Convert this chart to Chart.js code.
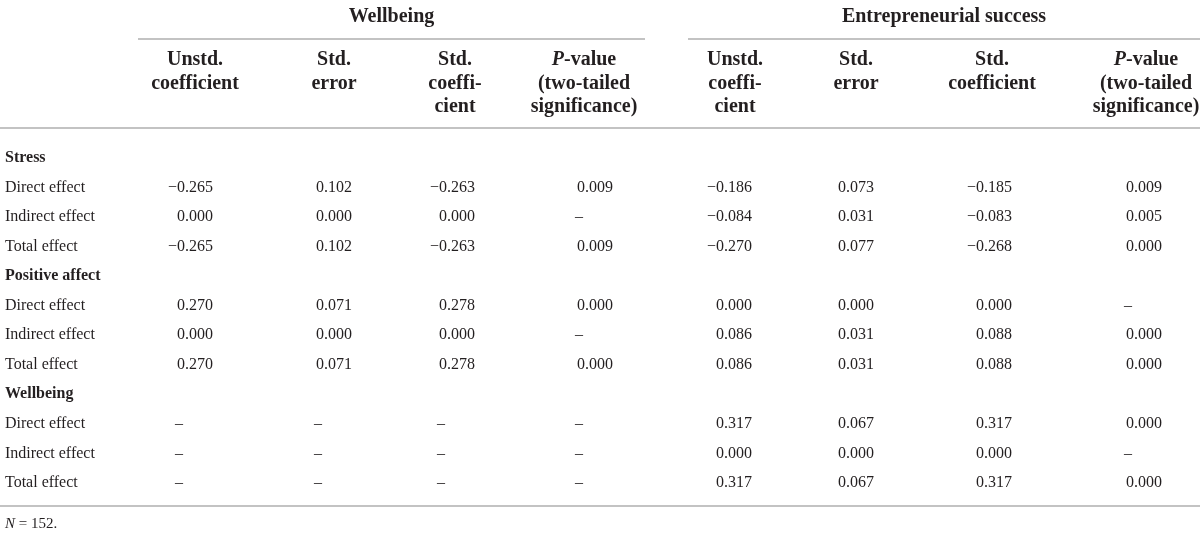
<!DOCTYPE html>
<html>
<head>
<meta charset="utf-8">
<script src="https://cdn.jsdelivr.net/npm/chart.js@4"></script>
<style>
  html, body { margin: 0; padding: 0; background: #fff; }
  #wrap { width: 1200px; height: 533px; position: relative; }
</style>
</head>
<body>
<div id="wrap"><canvas id="tbl"></canvas></div>
<script>
// table content
const groups = ['Stress', 'Positive affect', 'Wellbeing'];
const effects = ['Direct effect', 'Indirect effect', 'Total effect'];
const outcomes = ['Wellbeing', 'Entrepreneurial success'];
const colHeads = [
    ['Unstd.', 'coefficient'], ['Std.', 'error'], ['Std.', 'coeffi-', 'cient'], ['P-value', '(two-tailed', 'significance)'],
    ['Unstd.', 'coeffi-', 'cient'], ['Std.', 'error'], ['Std.', 'coefficient'], ['P-value', '(two-tailed', 'significance)']
];
// null = not estimated (drawn as a dash)
const wbUnstd = [-0.265, 0.000, -0.265, 0.270, 0.000, 0.270, null, null, null];
const wbSE    = [0.102, 0.000, 0.102, 0.071, 0.000, 0.071, null, null, null];
const wbStd   = [-0.263, 0.000, -0.263, 0.278, 0.000, 0.278, null, null, null];
const wbP     = [0.009, null, 0.009, 0.000, null, 0.000, null, null, null];
const esUnstd = [-0.186, -0.084, -0.270, 0.000, 0.086, 0.086, 0.317, 0.000, 0.317];
const esSE    = [0.073, 0.031, 0.077, 0.000, 0.031, 0.031, 0.067, 0.000, 0.067];
const esStd   = [-0.185, -0.083, -0.268, 0.000, 0.088, 0.088, 0.317, 0.000, 0.317];
const esP     = [0.009, 0.005, 0.000, null, 0.000, 0.000, 0.000, null, 0.000];
const footnote = 'N = 152.';

// layout (x in canvas units)
const colRight = [213, 352, 475, 613, 752, 874, 1012, 1162];
const headCenter = [195, 334, 455, 584, 735, 856, 992, 1146];
const spanX = [[138, 645], [688, 1200]];
const serif = '"Liberation Serif", "DejaVu Serif", serif';
const ink = '#231f20';
const rule = '#c3c3c3';

const rowLabels = [];
groups.forEach(g => { rowLabels.push(g); effects.forEach(e => rowLabels.push(e)); });
const rowOf = k => Math.floor(k / 3) * 4 + (k % 3) + 1;

const series = [wbUnstd, wbSE, wbStd, wbP, esUnstd, esSE, esStd, esP];
const datasets = series.map((vals, c) => ({
    label: colHeads[c].join(' '),
    data: vals.map((v, k) => ({ x: colRight[c], y: rowOf(k), v: v })),
    pointRadius: 0, showLine: false
}));

const fmt = v => (v < 0 ? '\u2212' : '') + Math.abs(v).toFixed(3);

const tablePlugin = {
    id: 'table',
    afterDatasetsDraw(chart) {
        const { ctx, scales: { x, y } } = chart;
        ctx.save();
        ctx.fillStyle = ink;
        ctx.textBaseline = 'middle';

        // rules
        ctx.strokeStyle = rule;
        ctx.lineWidth = 2;
        const hline = (x0, x1, yy) => { ctx.beginPath(); ctx.moveTo(x.getPixelForValue(x0), yy); ctx.lineTo(x.getPixelForValue(x1), yy); ctx.stroke(); };
        spanX.forEach(s => hline(s[0], s[1], 39));
        hline(0, 1200, 128);
        hline(0, 1200, 506);

        // outcome titles
        ctx.font = 'bold 20px ' + serif;
        ctx.textAlign = 'center';
        outcomes.forEach((t, i) => {
            const cx = (x.getPixelForValue(spanX[i][0]) + x.getPixelForValue(spanX[i][1])) / 2;
            ctx.fillText(t, cx, 17);
        });

        // column headers
        const hFont = 'bold 20px ' + serif;
        const pFont = 'italic bold 20px ' + serif;
        colHeads.forEach((lines, c) => {
            const cx = x.getPixelForValue(headCenter[c]);
            lines.forEach((l, j) => {
                const yy = 60 + j * 23.5;
                if (l.startsWith('P-')) {
                    ctx.font = pFont;
                    const pw = ctx.measureText('P').width;
                    ctx.font = hFont;
                    const rw = ctx.measureText(l.slice(1)).width;
                    const x0 = cx - (pw + rw) / 2;
                    ctx.textAlign = 'left';
                    ctx.font = pFont;
                    ctx.fillText('P', x0, yy);
                    ctx.font = hFont;
                    ctx.fillText(l.slice(1), x0 + pw, yy);
                } else {
                    ctx.font = hFont;
                    ctx.textAlign = 'center';
                    ctx.fillText(l, cx, yy);
                }
            });
        });

        // row labels
        ctx.textAlign = 'left';
        rowLabels.forEach((lab, i) => {
            ctx.font = (i % 4 === 0 ? 'bold 16px ' : '16px ') + serif;
            ctx.fillText(lab, 5, y.getPixelForValue(i));
        });

        // cells
        ctx.font = '16px ' + serif;
        const numW = ctx.measureText('0.000').width;
        chart.data.datasets.forEach((ds, di) => {
            chart.getDatasetMeta(di).data.forEach((el, i) => {
                const v = ds.data[i].v;
                if (v === null) {
                    ctx.textAlign = 'left';
                    ctx.fillText('\u2013', el.x - numW - 2, el.y);
                } else {
                    ctx.textAlign = 'right';
                    ctx.fillText(fmt(v), el.x, el.y);
                }
            });
        });

        // footnote
        ctx.textAlign = 'left';
        ctx.font = 'italic 15px ' + serif;
        ctx.fillText('N', 5, 524);
        const nw = ctx.measureText('N').width;
        ctx.font = '15px ' + serif;
        ctx.fillText(footnote.slice(1), 5 + nw, 524);
        ctx.restore();
    }
};

new Chart(document.getElementById('tbl'), {
    type: 'scatter',
    data: { datasets: datasets },
    options: {
        responsive: true, maintainAspectRatio: false, animation: false,
        layout: { padding: { top: 143.25, bottom: 35.25, left: 0, right: 0 } },
        scales: {
            x: { type: 'linear', min: 0, max: 1200, display: false },
            y: { type: 'linear', min: -0.5, max: rowLabels.length - 0.5, reverse: true, display: false }
        },
        plugins: { legend: { display: false }, tooltip: { enabled: false } }
    },
    plugins: [tablePlugin]
});
</script>
</body>
</html>
